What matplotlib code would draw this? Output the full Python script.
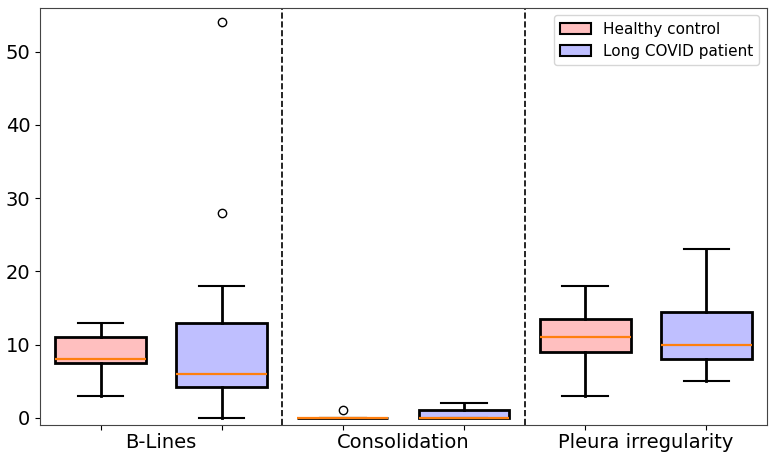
import matplotlib
matplotlib.use("Agg")
import matplotlib.pyplot as plt
from matplotlib.patches import Patch

# ── Data ──────────────────────────────────────────────────────────────────────
categories = ["B-Lines", "Consolidation", "Pleura irregularity"]
groups     = ["Healthy control", "Long COVID patient"]

# order: B-Lines (HC, LC), Consolidation (HC, LC), Pleura (HC, LC)
whislo  = [3,   0,   0, 0, 3,    5]
q1      = [7.5, 4.2, 0, 0, 9,    8]
medians = [8,   6,   0, 0, 11,   10]
q3      = [11,  13,  0, 1, 13.5, 14.5]
whishi  = [13,  18,  0, 2, 18,   23]
fliers  = [[], [28, 54], [1], [], [], []]

colors = ["#ffbfbf", "#bfbfff"]

stats = []
for i in range(len(medians)):
    stats.append({
        "whislo": whislo[i], "q1": q1[i], "med": medians[i],
        "q3": q3[i], "whishi": whishi[i], "fliers": fliers[i],
    })

# ── Plot ──────────────────────────────────────────────────────────────────────
fig = plt.figure(figsize=(7.7, 4.58), dpi=100)
ax = fig.add_axes([0.052, 0.072, 0.944, 0.911])

positions = list(range(1, len(stats) + 1))
bp = ax.bxp(
    stats, positions=positions, widths=0.75, patch_artist=True,
    boxprops=dict(edgecolor="black", linewidth=2),
    whiskerprops=dict(color="black", linewidth=2),
    capprops=dict(color="black", linewidth=1.5),
    medianprops=dict(color="#ff7f0e", linewidth=1.6),
    flierprops=dict(marker="o", markerfacecolor="none",
                    markeredgecolor="black", markersize=6),
)
for i, box in enumerate(bp["boxes"]):
    box.set_facecolor(colors[i % 2])

for xv in [2.5, 4.5]:
    ax.axvline(xv, color="black", linestyle="--", linewidth=1.2)

ax.set_xlim(0.5, 6.5)
ax.set_ylim(-1, 56)

for sp in ax.spines.values():
    sp.set_color("#444444")

ax.set_xticks(positions)
ax.set_xticklabels([""] * len(positions))
ax.set_xticks([1.5, 3.5, 5.5], minor=True)
ax.set_xticklabels(categories, minor=True, fontsize=14)
ax.tick_params(axis="x", which="minor", length=0, pad=6)
ax.tick_params(axis="y", labelsize=14)
ax.set_yticks([0, 10, 20, 30, 40, 50])

handles = [Patch(facecolor=c, edgecolor="black", linewidth=1.5, label=g)
           for c, g in zip(colors, groups)]
ax.legend(handles=handles, loc="upper right", fontsize=11)

fig.savefig("out.png", dpi=100)
